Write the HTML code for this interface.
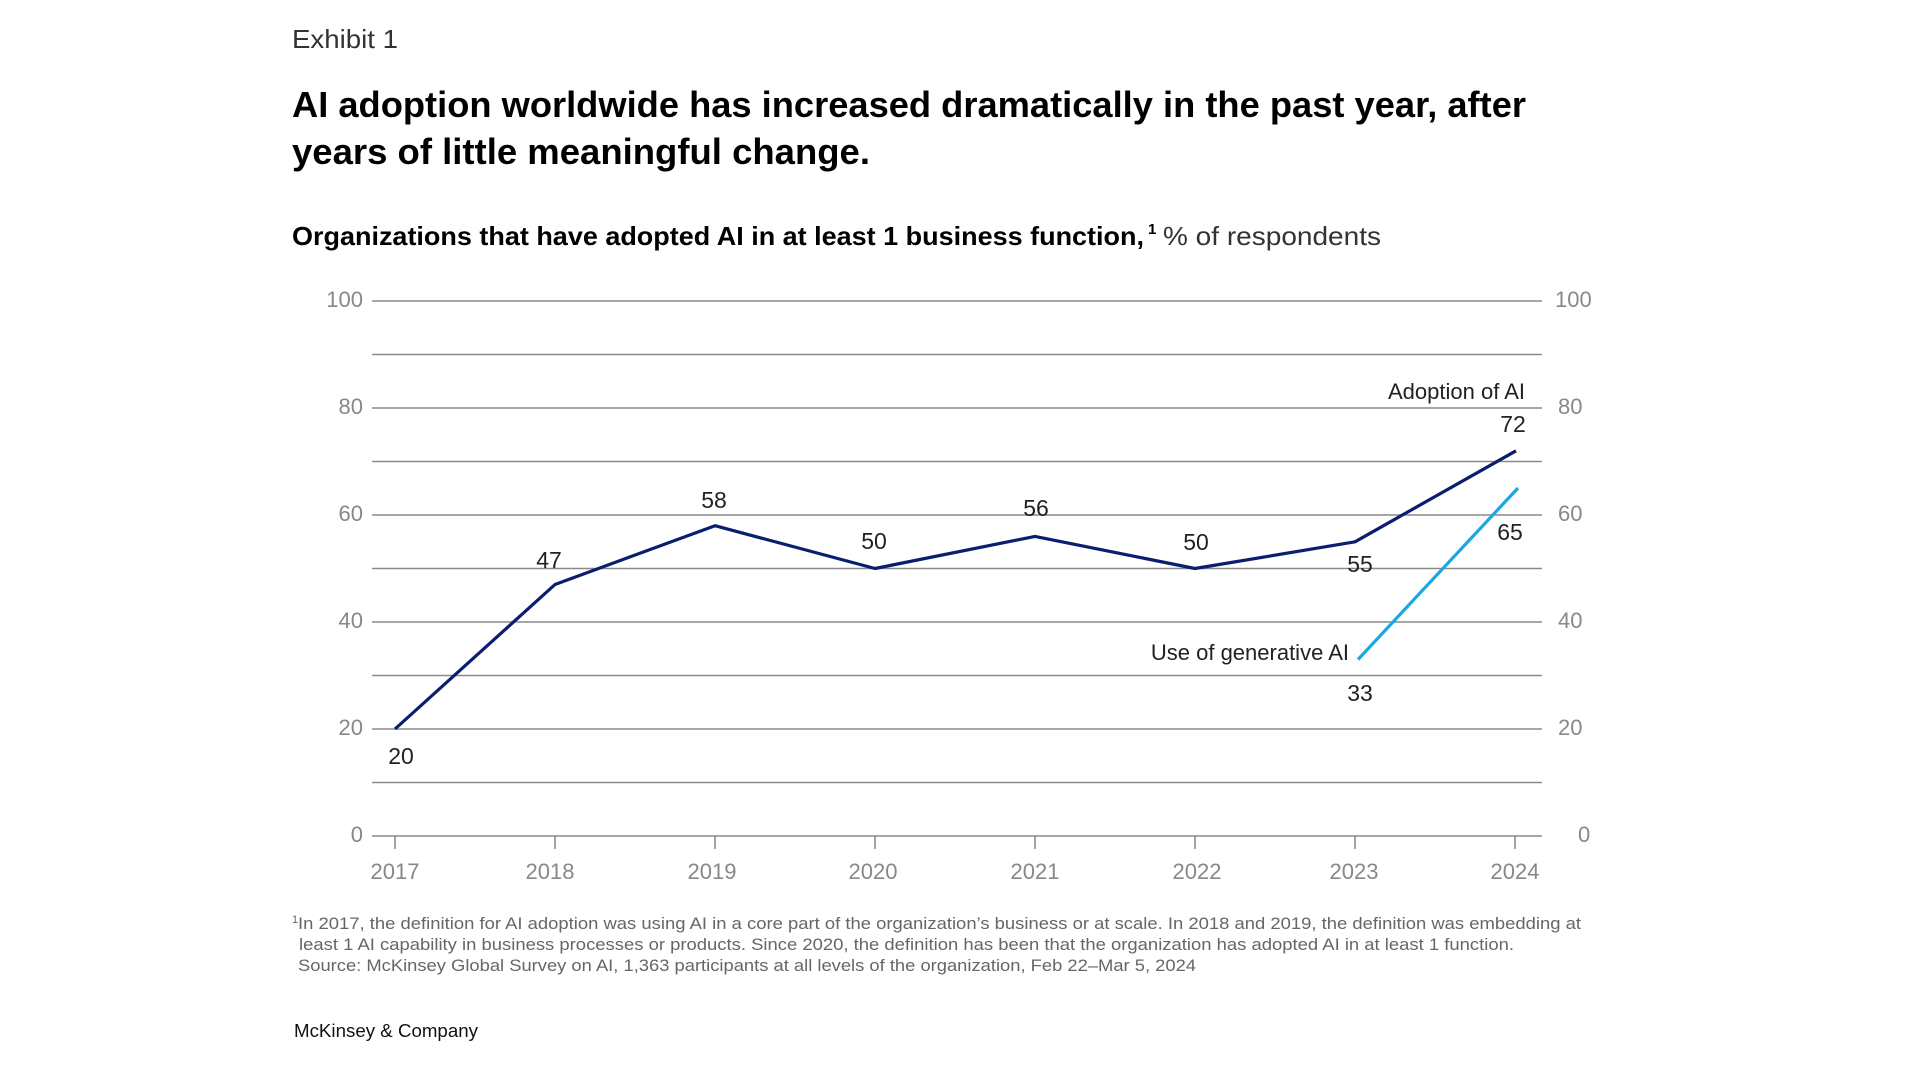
<!DOCTYPE html>
<html><head><meta charset="utf-8"><style>
html,body{margin:0;padding:0;background:#fff;}
svg{display:block;font-family:"Liberation Sans",sans-serif;}
</style></head><body>
<svg width="1920" height="1080" viewBox="0 0 1920 1080">
<text x="292" y="48" font-size="26" fill="#333" textLength="106" lengthAdjust="spacingAndGlyphs">Exhibit 1</text>
<text x="292" y="117" font-size="36" font-weight="bold" fill="#000" textLength="1234" lengthAdjust="spacingAndGlyphs">AI adoption worldwide has increased dramatically in the past year, after</text>
<text x="292" y="164" font-size="36" font-weight="bold" fill="#000" textLength="578" lengthAdjust="spacingAndGlyphs">years of little meaningful change.</text>
<text x="292" y="245" font-size="26" font-weight="bold" fill="#000" textLength="852" lengthAdjust="spacingAndGlyphs">Organizations that have adopted AI in at least 1 business function,</text>
<text x="1148" y="234" font-size="15" font-weight="bold" fill="#000">1</text>
<text x="1163" y="245" font-size="26" fill="#333" textLength="218" lengthAdjust="spacingAndGlyphs">% of respondents</text>
<g stroke="#8a8a8a" stroke-width="1.6">
<line x1="372" y1="301" x2="1542" y2="301"/><line x1="372" y1="354.5" x2="1542" y2="354.5"/>
<line x1="372" y1="408" x2="1542" y2="408"/><line x1="372" y1="461.5" x2="1542" y2="461.5"/>
<line x1="372" y1="515" x2="1542" y2="515"/><line x1="372" y1="568.5" x2="1542" y2="568.5"/>
<line x1="372" y1="622" x2="1542" y2="622"/><line x1="372" y1="675.5" x2="1542" y2="675.5"/>
<line x1="372" y1="729" x2="1542" y2="729"/><line x1="372" y1="782.5" x2="1542" y2="782.5"/>
<line x1="372" y1="836" x2="1542" y2="836"/>
<line x1="395" y1="836" x2="395" y2="849"/><line x1="555" y1="836" x2="555" y2="849"/>
<line x1="715" y1="836" x2="715" y2="849"/><line x1="875" y1="836" x2="875" y2="849"/>
<line x1="1035" y1="836" x2="1035" y2="849"/><line x1="1195" y1="836" x2="1195" y2="849"/>
<line x1="1355" y1="836" x2="1355" y2="849"/><line x1="1515" y1="836" x2="1515" y2="849"/>
</g>
<g font-size="22" fill="#888" text-anchor="end">
<text x="363" y="307">100</text><text x="363" y="414">80</text><text x="363" y="521">60</text>
<text x="363" y="628">40</text><text x="363" y="735">20</text><text x="363" y="842">0</text>
</g>
<g font-size="22" fill="#888">
<text x="1555" y="307">100</text><text x="1558" y="414">80</text><text x="1558" y="521">60</text>
<text x="1558" y="628">40</text><text x="1558" y="735">20</text><text x="1578" y="842">0</text>
</g>
<g font-size="22" fill="#888" text-anchor="middle">
<text x="395" y="879">2017</text><text x="550" y="879">2018</text><text x="712" y="879">2019</text>
<text x="873" y="879">2020</text><text x="1035" y="879">2021</text><text x="1197" y="879">2022</text>
<text x="1354" y="879">2023</text><text x="1515" y="879">2024</text>
</g>
<polyline fill="none" stroke="#0b1d6e" stroke-width="3.2" stroke-linejoin="round"
 points="395,729 555,584.5 715,525.7 875,568.5 1035,536.4 1195,568.5 1355,541.8 1516,450.8"/>
<line x1="1358" y1="659.5" x2="1518" y2="488" stroke="#1ba7e1" stroke-width="3.2"/>
<g font-size="23" fill="#222" text-anchor="middle">
<text x="401" y="764">20</text><text x="549" y="568">47</text><text x="714" y="508">58</text>
<text x="874" y="549">50</text><text x="1036" y="516">56</text><text x="1196" y="550">50</text>
<text x="1360" y="572">55</text><text x="1513" y="432">72</text><text x="1510" y="540">65</text>
<text x="1360" y="701">33</text>
</g>
<text x="1525" y="399" font-size="22" fill="#222" text-anchor="end">Adoption of AI</text>
<text x="1349" y="660" font-size="22" fill="#222" text-anchor="end">Use of generative AI</text>
<g font-size="17" fill="#666">
<text x="292" y="923" font-size="11">1</text>
<text x="298" y="929" textLength="1283" lengthAdjust="spacingAndGlyphs">In 2017, the definition for AI adoption was using AI in a core part of the organization’s business or at scale. In 2018 and 2019, the definition was embedding at</text>
<text x="299" y="950" textLength="1215" lengthAdjust="spacingAndGlyphs">least 1 AI capability in business processes or products. Since 2020, the definition has been that the organization has adopted AI in at least 1 function.</text>
<text x="298" y="971" textLength="898" lengthAdjust="spacingAndGlyphs">Source: McKinsey Global Survey on AI, 1,363 participants at all levels of the organization, Feb 22–Mar 5, 2024</text>
</g>
<text x="294" y="1037" font-size="18" fill="#111" textLength="184" lengthAdjust="spacingAndGlyphs">McKinsey &amp; Company</text>
</svg>
</body></html>
